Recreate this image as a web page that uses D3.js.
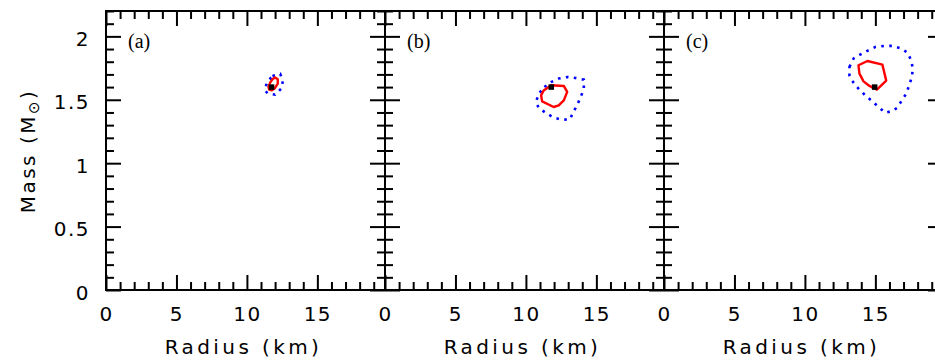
<!DOCTYPE html>
<html>
<head>
<meta charset="utf-8">
<script src="https://cdn.jsdelivr.net/npm/d3@7"></script>
<style>
  html, body { margin: 0; padding: 0; background: #fff; }
  svg { display: block; }
</style>
</head>
<body>
<svg id="chart" width="935" height="360"></svg>
<script>
// ---------------- DATA ----------------
const panelNames = ["(a)", "(b)", "(c)"];
const xTickLabels = [0, 5, 10, 15];
const yTickLabels = [0, 0.5, 1, 1.5, 2];
const xMinorStep = 1;
const yMinorStep = 0.1;
const xDomain = [0, 19.8];
const yDomain = [0, 2.2];

// best-fit points (radius km, mass Msun)
const bestRadius = [11.75, 11.8, 14.95];
const bestMass = [1.60, 1.60, 1.60];

// inner (solid red) contours
const redA_R = [12.00, 12.19, 12.19, 12.00, 11.77, 11.58, 11.53, 11.65, 11.81];
const redA_M = [1.675, 1.661, 1.627, 1.593, 1.574, 1.580, 1.601, 1.635, 1.661];
const redB_R = [11.79, 12.69, 12.93, 12.69, 12.33, 11.97, 11.15, 11.08, 11.26, 11.62];
const redB_M = [1.614, 1.609, 1.562, 1.495, 1.456, 1.443, 1.487, 1.535, 1.574, 1.601];
const redC_R = [13.80, 14.44, 15.50, 15.77, 15.11, 14.58, 14.16, 13.87];
const redC_M = [1.772, 1.806, 1.777, 1.651, 1.580, 1.609, 1.645, 1.706];

// outer (dotted blue) contours
const blueA_R = [11.81, 12.36, 12.55, 12.48, 12.00, 11.46, 11.29, 11.41];
const blueA_M = [1.688, 1.704, 1.653, 1.593, 1.540, 1.551, 1.574, 1.635];
const blueB_R = [11.31, 11.79, 12.33, 12.93, 13.52, 14.11, 14.11, 13.92, 13.68, 13.40, 13.11, 12.57, 11.97, 11.43, 10.91, 10.72, 10.91];
const blueB_M = [1.601, 1.640, 1.667, 1.680, 1.672, 1.659, 1.588, 1.530, 1.469, 1.409, 1.345, 1.343, 1.359, 1.396, 1.435, 1.483, 1.548];
const blueC_R = [13.16, 13.45, 13.97, 14.47, 15.03, 15.63, 16.22, 16.81, 17.28, 17.54, 17.66, 17.59, 17.40, 17.19, 16.88, 16.53, 16.12, 15.70, 15.22, 14.75, 14.28, 13.80, 13.45, 13.16];
const blueC_M = [1.759, 1.825, 1.859, 1.888, 1.917, 1.925, 1.925, 1.904, 1.872, 1.811, 1.746, 1.680, 1.614, 1.548, 1.495, 1.435, 1.409, 1.398, 1.443, 1.491, 1.535, 1.588, 1.635, 1.693];

const redR = [redA_R, redB_R, redC_R], redM = [redA_M, redB_M, redC_M];
const blueR = [blueA_R, blueB_R, blueC_R], blueM = [blueA_M, blueB_M, blueC_M];

// ---------------- LAYOUT ----------------
const svg = d3.select("#chart");
const left0 = 106, topY = 11, W = 279, H = 279;
const majorLen = 15, minorLen = 8;
const numFont = "'DejaVu Sans', sans-serif";

const x = d3.scaleLinear().domain(xDomain).range([0, W]);
const y = d3.scaleLinear().domain(yDomain).range([H, 0]);

const xMinor = d3.range(0, xDomain[1], xMinorStep).filter(v => !xTickLabels.includes(v));
const yMinor = d3.range(0, yDomain[1] + 1e-9, yMinorStep).map(v => +v.toFixed(2)).filter(v => !yTickLabels.some(t => Math.abs(t - v) < 1e-6));

function styleAxis(g) {
  g.select(".domain").remove();
  g.selectAll(".tick line").attr("stroke", "#000").attr("stroke-width", 2);
  g.selectAll(".tick text").attr("font-family", numFont).attr("font-size", 20)
    .attr("fill", "#000").attr("letter-spacing", "1.5px");
}

panelNames.forEach((name, i) => {
  const g = svg.append("g").attr("transform", `translate(${left0 + i * W},${topY})`);

  const bottom = g.append("g").attr("transform", `translate(0,${H})`)
    .call(d3.axisBottom(x).tickValues(xTickLabels).tickSize(-majorLen).tickSizeOuter(0).tickPadding(17).tickFormat(d3.format("d")));
  styleAxis(bottom);
  const bottomMin = g.append("g").attr("transform", `translate(0,${H})`)
    .call(d3.axisBottom(x).tickValues(xMinor).tickSize(-minorLen).tickSizeOuter(0).tickFormat(""));
  styleAxis(bottomMin);

  const topA = g.append("g")
    .call(d3.axisTop(x).tickValues(xTickLabels).tickSize(-majorLen).tickSizeOuter(0).tickFormat(""));
  styleAxis(topA);
  const topMin = g.append("g")
    .call(d3.axisTop(x).tickValues(xMinor).tickSize(-minorLen).tickSizeOuter(0).tickFormat(""));
  styleAxis(topMin);

  const leftA = g.append("g")
    .call(d3.axisLeft(y).tickValues(yTickLabels).tickSize(-majorLen).tickSizeOuter(0).tickPadding(16)
      .tickFormat(i === 0 ? (d => d3.format("")(d)) : ""));
  styleAxis(leftA);
  leftA.selectAll(".tick text").attr("dy", "0.45em");
  const leftMin = g.append("g")
    .call(d3.axisLeft(y).tickValues(yMinor).tickSize(-minorLen).tickSizeOuter(0).tickFormat(""));
  styleAxis(leftMin);

  const rightA = g.append("g").attr("transform", `translate(${W},0)`)
    .call(d3.axisRight(y).tickValues(yTickLabels).tickSize(-majorLen).tickSizeOuter(0).tickFormat(""));
  styleAxis(rightA);
  const rightMin = g.append("g").attr("transform", `translate(${W},0)`)
    .call(d3.axisRight(y).tickValues(yMinor).tickSize(-minorLen).tickSizeOuter(0).tickFormat(""));
  styleAxis(rightMin);

  g.append("rect").attr("x", 0).attr("y", 0).attr("width", W).attr("height", H)
    .attr("fill", "none").attr("stroke", "#000").attr("stroke-width", 2);

  const line = d3.line().x(d => x(d[0])).y(d => y(d[1])).curve(d3.curveLinearClosed);
  const bluePts = blueR[i].map((r, k) => [r, blueM[i][k]]);
  const redPts = redR[i].map((r, k) => [r, redM[i][k]]);

  g.append("path").attr("d", line(bluePts)).attr("fill", "none")
    .attr("stroke", "#0000ff").attr("stroke-width", 2.6).attr("stroke-dasharray", "2.6,5.4");
  g.append("path").attr("d", line(redPts)).attr("fill", "none")
    .attr("stroke", "#ff0000").attr("stroke-width", 2.4).attr("stroke-linejoin", "round");

  g.append("rect")
    .attr("x", x(bestRadius[i]) - 2.75).attr("y", y(bestMass[i]) - 2.75)
    .attr("width", 5.5).attr("height", 5.5).attr("fill", "#000");

  g.append("text").attr("x", 22).attr("y", 37).text(name)
    .attr("font-family", "'Liberation Serif', 'Times New Roman', serif")
    .attr("font-size", 20).attr("fill", "#000");

  g.append("text").attr("x", W / 2 - 2).attr("y", 354 - topY).attr("text-anchor", "middle")
    .attr("font-family", numFont).attr("font-size", 20).attr("letter-spacing", "3.4px")
    .attr("fill", "#000").text("Radius (km)");
});

const yt = svg.append("text").attr("transform", "translate(35,151) rotate(-90)")
  .attr("text-anchor", "middle").attr("font-family", numFont).attr("font-size", 20)
  .attr("letter-spacing", "2.5px").attr("fill", "#000");
yt.append("tspan").text("Mass (M");
yt.append("tspan").attr("font-size", 15).attr("dy", 4).text("⊙");
yt.append("tspan").attr("dy", -4).text(")");
</script>
</body>
</html>
